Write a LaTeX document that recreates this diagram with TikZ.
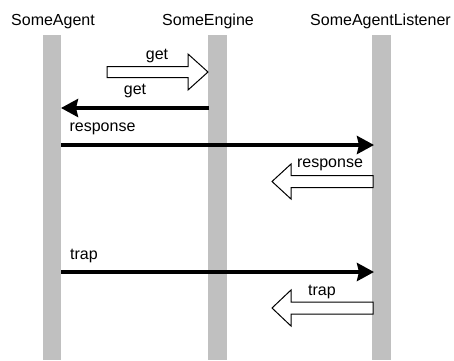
\documentclass[tikz,border=0pt]{standalone}
\usepackage{fontspec}
\setmainfont{Liberation Sans}
\usetikzlibrary{arrows.meta}
\begin{document}
\begin{tikzpicture}[x=1bp,y=-1bp,
  lbl/.style={anchor=base,inner sep=0pt,font=\fontsize{16bp}{19bp}\selectfont},
  bar/.style={fill={rgb,255:red,192;green,192;blue,192},draw=none},
  msg/.style={line width=4.5bp,-{Stealth[length=17bp,width=18bp,inset=2bp]}},
  hollow/.style={draw=black,line width=1bp,fill=white,line join=miter}]
\useasboundingbox (0,0) rectangle (454,360);
% lifelines
\fill[bar] (43,35) rectangle (61,360);
\fill[bar] (208,35) rectangle (227,360);
\fill[bar] (372,35) rectangle (391,360);
\node[lbl] (tA) at (53,25) {SomeAgent};
\node[lbl] (tE) at (208,25) {SomeEngine};
\node[lbl] (tL) at (380.5,25) {SomeAgentListener};
% anchor coordinates
\coordinate (a1) at (61,145);
\coordinate (l1) at (374,145);
\coordinate (e2) at (209,108);
\coordinate (a2) at (61,108);
\coordinate (a3) at (61,272);
\coordinate (l3) at (374,272);
% hollow get arrow
\draw[hollow] (107,66.5) -- (188,66.5) -- (188,54) -- (208,72) -- (188,90) -- (188,77.5) -- (107,77.5) -- cycle;
\node[lbl] (g1) at (157,59) {get};
% black get
\draw[msg] (e2) -- (a2);
\node[lbl] (g2) at (135,94) {get};
% response
\draw[msg] (a1) -- (l1);
\node[lbl] (r1) at (102.5,131) {response};
% hollow response
\draw[hollow] (373,175.5) -- (291,175.5) -- (291,164) -- (272,181.5) -- (291,199) -- (291,187.5) -- (373,187.5) -- cycle;
\node[lbl] (r2) at (330,167) {response};
% trap
\draw[msg] (a3) -- (l3);
\node[lbl] (t1) at (84,259) {trap};
% hollow trap
\draw[hollow] (373,302) -- (291,302) -- (291,290) -- (272,308) -- (291,326) -- (291,314) -- (373,314) -- cycle;
\node[lbl] (t2) at (322,295) {trap};
\end{tikzpicture}
\end{document}
